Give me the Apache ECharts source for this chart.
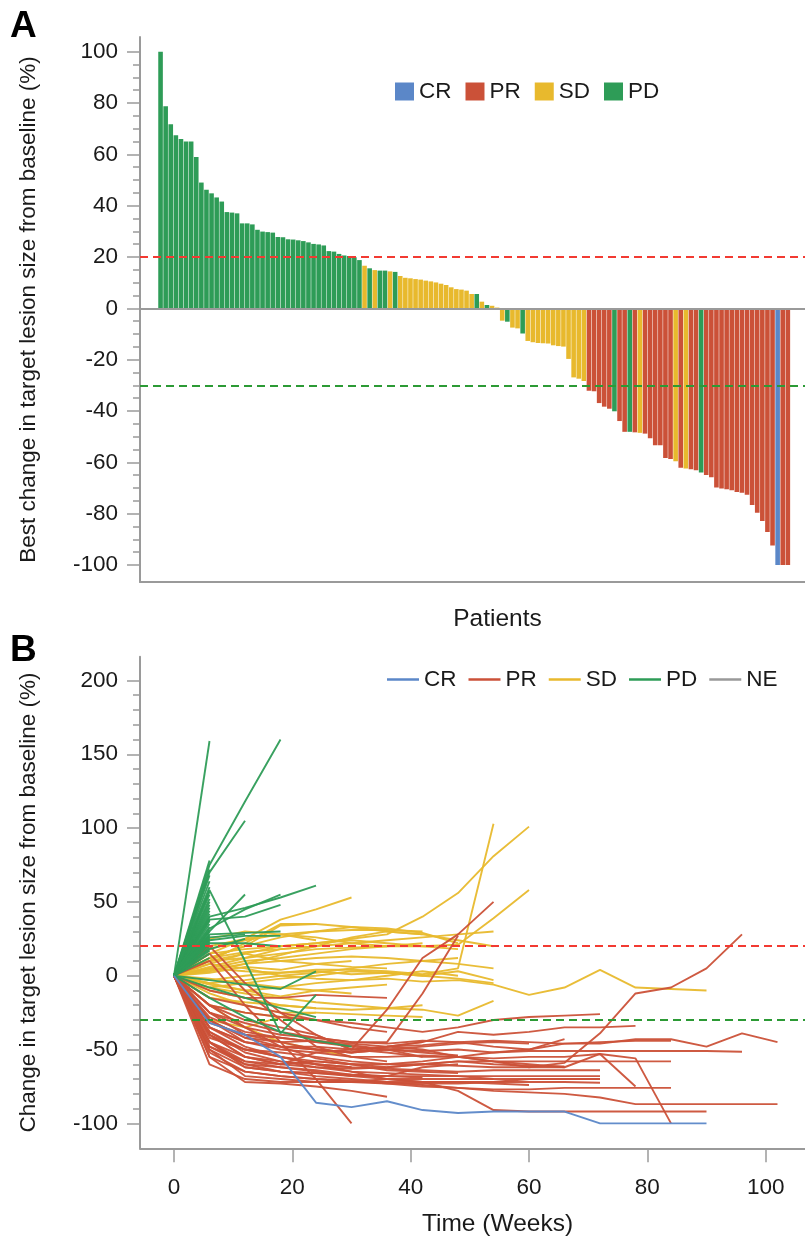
<!DOCTYPE html>
<html><head><meta charset="utf-8">
<script src="https://cdn.jsdelivr.net/npm/echarts@6/dist/echarts.min.js"></script>
<style>html,body{margin:0;padding:0;background:#fff}#c{width:805px;height:1243px}</style>
</head><body><div id="c"></div>
<script>
// ---------- Panel A data ----------
const bestChange = [
 100,78.7,71.7,67.4,66,65,65,59,49,46.2,44.8,43.2,41.6,37.5,37.3,37,33.1,33.1,32.7,30.6,
 29.9,29.7,29.5,27.8,27.7,26.9,26.8,26.5,26.2,25.7,25.1,24.9,24.5,22.3,22.1,21.2,20.6,20.4,19.9,18.8,
 16.6,15.6,14.9,14.7,14.7,14.4,14.2,
 12.6,11.9,11.7,11.4,11.2,10.8,10.5,10.1,9.6,9.1,8.2,7.5,7.3,6.9,5.6,
 5.6,2.6,1.3,1.0,0.3,-4.8,-5.2,-7.5,-7.8,-9.8,
 -12.7,-13.2,-13.5,-13.6,-13.7,-14.4,-14.7,-14.9,-19.7,-26.9,-27.4,-28.3,
 -32.1,-32.3,-36.9,-38.3,-39.1,-40.1,-43.9,-48.1,-48.1,-48.3,-48.5,
 -48.8,-50.6,-53.3,-53.3,-58.3,-58.7,-59.6,-62.1,-62.4,-62.7,-63.1,-63.9,
 -64.9,-65.8,-69.8,-70.2,-70.5,-70.9,-71.5,-71.8,-72.6,-76.6,-79.6,-82.8,-87.1,-92.4,
 -100,-100,-100
];
const bestStatus = [
 'PD','PD','PD','PD','PD','PD','PD','PD','PD','PD','PD','PD','PD','PD','PD','PD','PD','PD','PD','PD',
 'PD','PD','PD','PD','PD','PD','PD','PD','PD','PD','PD','PD','PD','PD','PD','PD','PD','PD','PD','PD',
 'SD','PD','SD','PD','PD','SD','PD',
 'SD','SD','SD','SD','SD','SD','SD','SD','SD','SD','SD','SD','SD','SD','SD',
 'PD','SD','PD','SD','SD','SD','PD','SD','SD','PD',
 'SD','SD','SD','SD','SD','SD','SD','SD','SD','SD','SD','SD',
 'PR','PR','PR','PR','PR','PD','PR','PR','PD','PR','SD',
 'PR','PR','PR','PR','PR','PR','SD','PR','SD','PR','PR','PD',
 'PR','PR','PR','PR','PR','PR','PR','PR','PR','PR','PR','PR','PR','PR',
 'CR','PR','PR'
];
const responseCats = ['CR','PR','SD','PD'];
const aMajorTicks = [-100,-80,-60,-40,-20,0,20,40,60,80,100];
const aMinorTicks = [-95,-90,-85,-75,-70,-65,-55,-50,-45,-35,-30,-25,-15,-10,-5,5,10,15,25,30,35,45,50,55,65,70,75,85,90,95];

// ---------- Panel B data (values at weeks below) ----------
const weeks = [0,6,12,18,24,30,36,42,48,54,60,66,72,78,84,90,96,102];
const crLines = [
 [0,-32,-40,-55,-86,-89,-85,-91,-93,-92,-92,-92,-100,-100,-100,-100]
];
const prLines = [
 [0,-40,-55,-60,-62,-63,-62,-60,-61,-62,-62,-59,-39,-12,-8,5,28],
 [0,-30,-42,-45,-44,-46,-48,-47,-45,-44,-45,-46,-46,-43,-43,-48,-39,-45],
 [0,-35,-45,-48,-50,-52,-50,-51,-50,-52,-51,-51,-51,-51,-51,-51,-51.5],
 [0,-45,-60,-65,-68,-70,-72,-74,-76,-78,-79,-80,-82.5,-87,-87,-87,-87,-87],
 [0,-38,-50,-55,-60,-65,-70,-72,-78,-91,-92,-92,-92,-92,-92,-92],
 [0,-30,-45,-50,-52,-55,-55,-54,-55,-56,-55,-55,-53,-56,-100],
 [0,-25,-40,-45,-50,-52,-48,-50,-55,-58,-60,-62,-53,-75],
 [0,-20,-30,-35,-40,-50,-23,12,28,50],
 [0,-25,-35,-40,-42,-45,-45,-12,27],
 [0,-20,-25,-28,-30,-32,-35,-38,-35,-30,-28,-27,-26],
 [0,-40,-55,-58,-60,-62,-63,-64,-65,-64,-64,-64,-64],
 [0,-45,-62,-65,-66,-67,-68,-68,-68,-68,-68,-68,-68],
 [0,-50,-68,-70,-72,-72,-72,-72,-72,-72,-72,-72,-72.5],
 [0,-35,-45,-48,-48,-50,-48,-45,-38,-40,-38,-35,-35,-34],
 [0,-40,-50,-52,-55,-58,-60,-58,-55,-52,-50,-43],
 [0,-45,-55,-60,-58,-60,-62,-60,-58,-60,-61,-61.5],
 [0,-42,-50,-55,-58,-60,-60,-60,-58,-58,-58,-58,-58,-58,-58],
 [0,-10,-15,-15,-13,-14,-15],
 [0,-15,-20,-25,-30,-35,-38],
 [0,-55,-72,-73,-75,-78,-82],
 [0,-50,-62,-65,-66,-68,-68,-69],
 [0,10,-20,-45,-70,-100],
 [0,-30,-42,-48,-50,-52,-50,-48,-46,-45,-46],
 [0,-60,-70,-72,-72,-72,-70,-70,-70,-70,-70,-70,-70],
 [0,-55,-65,-68,-70,-71,-73,-73,-73,-72,-70,-70,-70],
 [0,-35,-48,-55,-60,-62],
 [0,-45,-58,-62,-65,-68,-70,-72,-72,-73,-74],
 [0,-28,-38,-42,-45,-47,-50,-55,-55,-58,-62,-62],
 [0,-32,-40,-42,-45,-48,-50,-52,-54],
 [0,-25,-32,-38,-42,-45,-46,-44,-45,-48,-50,-46,-45,-44,-44],
 [0,-20,-35,-48,-56,-60,-64,-65,-66],
 [0,-48,-60,-62,-64,-67,-68,-62,-60],
 [0,-38,-52,-58,-62,-65,-66,-67,-68,-70],
 [0,-52,-65,-68,-70,-72,-73,-75,-76,-77,-77,-76,-76,-76,-76],
 [0,15,-10,-30,-48,-55,-58],
 [0,20,-5,-25,-40,-50,-52,-55],
 [0,-48,-58,-60,-52,-50,-48,-45]
];
const sdLines = [
 [0,15,25,38,45,53],
 [0,10,22,35,35,33,30,28],
 [0,12,20,34,35],
 [0,8,15,20,22,25,28,40,56,81,101],
 [0,5,3,2,4,4,3,1,5,103],
 [0,10,12,15,18,19,20,20,21,39,58],
 [0,-5,-10,-8,-5,-3,-2,-4,-3,-6,-13,-8,4,-8,-9,-10],
 [0,-10,-15,-20,-22,-23,-22,-23,-27,-17],
 [0,-3,0,2,3,1,2,0,3,-3],
 [0,18,24,28,30,31,31,30],
 [0,12,20,26,30,33,32,29,22],
 [0,5,10,12,15,18,20,22],
 [0,20,25,28,26,22,20],
 [0,8,5,0,-2,-3,0,3,0],
 [0,-8,-12,-15,-18,-20,-22,-20],
 [0,-12,-20,-25,-25,-26,-27,-28],
 [0,15,18,20,22,24,22,20,18],
 [0,3,8,10,12,13,12,10,8,5],
 [0,-5,-3,0,2,5,8,10,12],
 [0,10,15,10,8,6,5],
 [0,25,30,28,24],
 [0,-15,-18,-20,-22],
 [0,-20,-25,-28,-30],
 [0,6,12,18,20],
 [0,-2,-5,-8,-10,-12],
 [0,-20,-35,-45,-50,-55],
 [0,-30,-35,-28,-25],
 [0,4,8,14,20,26,30,28,24,20],
 [0,-8,-5,-2,0,3,2,0,-2,-5],
 [0,12,16,18,20,22,24,26,28,30],
 [0,2,6,4,8,10],
 [0,-6,-10,-14,-10,-8,-6]
];
const pdLines = [
 [0,78],[0,72],[0,68],[0,64],[0,60],[0,57],[0,55],[0,52],[0,50],[0,48],[0,46],[0,44],
 [0,42],[0,40],[0,38],[0,37],[0,35],[0,33],[0,31],[0,30],[0,28],[0,27],[0,26],[0,25],
 [0,24],[0,23],[0,22],[0,21],[0,19],[0,17],[0,15],[0,12],
 [0,159],
 [0,75,118,160],
 [0,70,105],
 [0,40,46,53,61],
 [0,30,55],
 [0,38,40,48],
 [0,32,45,55],
 [0,58,10,-39,-13],
 [0,22,22,20],
 [0,-3,-6,-9,3],
 [0,-15,-28,-38,-44,-48],
 [0,28,29,30],
 [0,24,27,27],
 [0,26,28],
 [0,18,25],
 [0,-8,-15,-22,-28]
];
const bMajorTicks = [-100,-50,0,50,100,150,200];
const bMinorTicks = [-90,-80,-70,-60,-40,-30,-20,-10,10,20,30,40,60,70,80,90,110,120,130,140,160,170,180,190];
const weekTicks = [0,20,40,60,80,100];

// ---------- styling ----------
const FONT = '"Liberation Sans", Arial, Helvetica, sans-serif';
const COLORS = {CR:'#5B87C8', PR:'#CB5138', SD:'#E8B92D', PD:'#2E9C57', NE:'#999999'};
const AXIS = '#9a9a9a';
const TXT = '#1a1a1a';
const dashRed = {color:'#F23A32', type:[8,5], width:2};
const dashGreen = {color:'#2C9A35', type:[8,5], width:2};

function yAxisPair(grid, min, max, major, minor, name, nameGap) {
  return [
    {gridIndex:grid, type:'value', min:min, max:max, position:'left',
     axisLine:{show:true, onZero:false, lineStyle:{color:AXIS, width:2}},
     axisTick:{show:true, length:13, customValues:major, lineStyle:{color:AXIS, width:1.5}},
     axisLabel:{customValues:major, margin:22, fontSize:22.5, color:TXT, fontFamily:FONT},
     splitLine:{show:false}, minorTick:{show:false},
     name:name, nameLocation:'middle', nameGap:nameGap,
     nameTextStyle:{fontSize:22.5, color:TXT, fontFamily:FONT}},
    {gridIndex:grid, type:'value', min:min, max:max, position:'left', offset:0,
     axisLine:{show:false, onZero:false},
     axisTick:{show:true, length:7, customValues:minor, lineStyle:{color:AXIS, width:1.5}},
     axisLabel:{show:false}, splitLine:{show:false}}
  ];
}

const series = [];
responseCats.forEach(function(k, ci){
  const data = [];
  bestChange.forEach(function(v, i){ if (bestStatus[i] === k) data.push([i, v]); });
  const s = {type:'bar', name:k, xAxisIndex:0, yAxisIndex:0, barWidth:4.6, barGap:'-100%',
    itemStyle:{color:COLORS[k]}, data:data, silent:true};
  if (ci === 3) {
    s.markLine = {silent:true, symbol:['none','none'], label:{show:false},
      data:[{yAxis:0, lineStyle:{color:AXIS, type:'solid', width:2}},
            {yAxis:20, lineStyle:dashRed},
            {yAxis:-30, lineStyle:dashGreen}]};
  }
  series.push(s);
});

function addLines(list, k, z) {
  list.forEach(function(vals){
    series.push({type:'line', name:k, xAxisIndex:1, yAxisIndex:2, symbol:'none', silent:true, z:z,
      lineStyle:{color:COLORS[k], width:1.9, opacity:0.95}, itemStyle:{color:COLORS[k]},
      data: vals.map(function(v, i){ return [weeks[i], v]; })});
  });
}
addLines(sdLines, 'SD', 2);
addLines(prLines, 'PR', 3);
addLines(pdLines, 'PD', 4);
addLines(crLines, 'CR', 5);
series.push({type:'line', name:'NE', xAxisIndex:1, yAxisIndex:2, symbol:'none', data:[],
  lineStyle:{color:COLORS.NE, width:2}, itemStyle:{color:COLORS.NE}, z:6,
  markLine:{silent:true, symbol:['none','none'], label:{show:false},
    data:[{yAxis:20, lineStyle:dashRed},{yAxis:-30, lineStyle:dashGreen}]}});

const option = {
  animation:false,
  backgroundColor:'#fff',
  textStyle:{fontFamily:FONT},
  title:[
    {text:'A', left:10, top:8, padding:0, textStyle:{fontSize:37, fontWeight:'bold', color:'#000', fontFamily:FONT}},
    {text:'B', left:10, top:632, padding:0, textStyle:{fontSize:37, fontWeight:'bold', color:'#000', fontFamily:FONT}}
  ],
  legend:[
    {data:responseCats, left:390, top:75, icon:'rect', itemWidth:19, itemHeight:18, itemGap:14,
     selectedMode:false, textStyle:{fontSize:22.5, color:TXT, fontFamily:FONT}},
    {data:['CR','PR','SD','PD','NE'], left:382, top:663, icon:'rect', itemWidth:32, itemHeight:2.5, itemGap:12,
     selectedMode:false, textStyle:{fontSize:22.5, color:TXT, fontFamily:FONT}}
  ],
  grid:[
    {left:140, top:37, width:715, height:545, outerBoundsMode:'none', containLabel:false},
    {left:140, top:656.7, width:715, height:491.6, outerBoundsMode:'none', containLabel:false}
  ],
  xAxis:[
    {gridIndex:0, type:'value', min:-4.03, max:136.17,
     axisLine:{show:true, onZero:false, lineStyle:{color:AXIS, width:2}},
     axisTick:{show:false}, axisLabel:{show:false}, splitLine:{show:false},
     name:'Patients', nameLocation:'middle', nameGap:25,
     nameTextStyle:{fontSize:24.5, color:TXT, fontFamily:FONT}},
    {gridIndex:1, type:'value', min:-5.75, max:115.1,
     axisLine:{show:true, onZero:false, lineStyle:{color:AXIS, width:2}},
     axisTick:{show:true, length:14, customValues:weekTicks, lineStyle:{color:AXIS, width:1.5}},
     axisLabel:{customValues:weekTicks, margin:28, fontSize:22.5, color:TXT, fontFamily:FONT},
     splitLine:{show:false},
     name:'Time (Weeks)', nameLocation:'middle', nameGap:63,
     nameTextStyle:{fontSize:24.5, color:TXT, fontFamily:FONT}}
  ],
  yAxis: [].concat(
    yAxisPair(0, -106.6, 105.7, aMajorTicks, aMinorTicks, 'Best change in target lesion size from baseline (%)', 100),
    yAxisPair(1, -116.9, 216.1, bMajorTicks, bMinorTicks, 'Change in target lesion size from baseline (%)', 100)
  ),
  series: series
};
const chart = echarts.init(document.getElementById('c'), null, {renderer:'canvas'});
chart.setOption(option);
</script>
</body></html>
